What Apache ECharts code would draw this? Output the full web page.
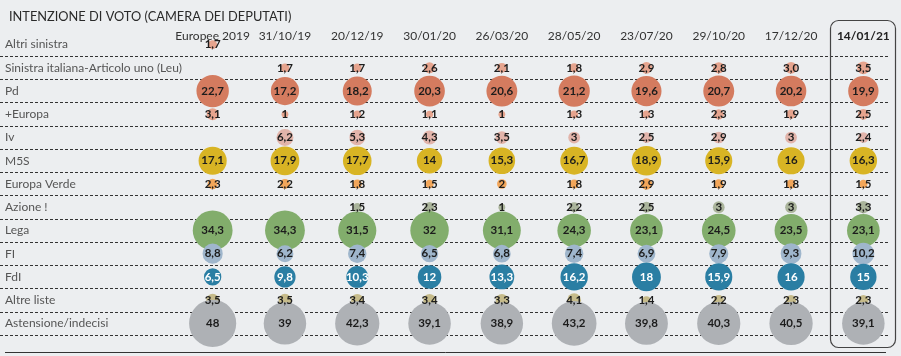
<!DOCTYPE html>
<html><head><meta charset="utf-8">
<script src="https://cdn.jsdelivr.net/npm/echarts@6/dist/echarts.min.js"></script>
<style>html,body{margin:0;padding:0;background:#eceef0}#c{width:901px;height:356px}</style>
</head><body><div id="c"></div>
<script>
const dates = ['Europee 2019','31/10/19','20/12/19','30/01/20','26/03/20','28/05/20','23/07/20','29/10/20','17/12/20','14/01/21'];
const parties = ['Altri sinistra','Sinistra italiana-Articolo uno (Leu)','Pd','+Europa','Iv','M5S','Europa Verde','Azione !','Lega','FI','FdI','Altre liste','Astensione/indecisi'];
const altriSinistra = ['1,7',null,null,null,null,null,null,null,null,null];
const sinistraLeu = [null,'1,7','1,7','2,6','2,1','1,8','2,9','2,8','3,0','3,5'];
const pd = ['22,7','17,2','18,2','20,3','20,6','21,2','19,6','20,7','20,2','19,9'];
const piuEuropa = ['3,1','1','1,2','1,1','1','1,3','1,3','2,3','1,9','2,5'];
const iv = [null,'6,2','5,3','4,3','3,5','3','2,5','2,9','3','2,4'];
const m5s = ['17,1','17,9','17,7','14','15,3','16,7','18,9','15,9','16','16,3'];
const europaVerde = ['2,3','2,2','1,8','1,5','2','1,8','2,9','1,9','1,8','1,5'];
const azione = [null,null,'1,5','2,3','1','2,2','2,5','3','3','3,3'];
const lega = ['34,3','34,3','31,5','32','31,1','24,3','23,1','24,5','23,5','23,1'];
const fi = ['8,8','6,2','7,4','6,5','6,8','7,4','6,9','7,9','9,3','10,2'];
const fdi = ['6,5','9,8','10,3','12','13,3','16,2','18','15,9','16','15'];
const altreListe = ['3,5','3,5','3,4','3,4','3,3','4,1','1,4','2,2','2,3','2,3'];
const astensione = ['48','39','42,3','39,1','38,9','43,2','39,8','40,3','40,5','39,1'];
const rowValues = [altriSinistra,sinistraLeu,pd,piuEuropa,iv,m5s,europaVerde,azione,lega,fi,fdi,altreListe,astensione];
const colors = ['#e6a48e','#e6a48e','#d47b5f','#e6a48e','#e2b4aa','#d8b424','#f2a65a','#aab49b','#82ad6c','#9fb6cc','#2a7ea3','#c6bb8a','#aeb1b5'];
const labelColors = parties.map(p => p === 'FdI' ? '#ffffff' : '#1c1c1c');

const FONT = 'Lato';
const chart = echarts.init(document.getElementById('c'), null, {renderer:'canvas'});

const series = rowValues.map((vals, i) => ({
  type: 'scatter', name: parties[i], xAxisIndex: 0, yAxisIndex: 0,
  data: vals.map((v, j) => v == null ? null : [dates[j], parties[i], parseFloat(v.replace(',', '.')), v]).filter(d => d),
  symbolSize: d => 6.8 * Math.sqrt(d[2]),
  itemStyle: {color: colors[i], opacity: 1},
  label: {show: true, position: 'inside', formatter: p => p.data[3], fontFamily: FONT, fontWeight: 'bold', fontSize: 11.5, color: labelColors[i]},
  emphasis: {disabled: true}, silent: true, animation: false
}));

chart.setOption({
  backgroundColor: '#eceef0',
  animation: false,
  title: {text: 'INTENZIONE DI VOTO (CAMERA DEI DEPUTATI)', left: 4, top: 5, textStyle: {fontFamily: FONT, fontSize: 12.8, fontWeight: 'normal', color: '#2a2a2a'}},
  grid: [
    {left: 176.5, right: 1.5, top: 33, height: 302},
    {left: 0, right: 11, top: 33, height: 302}
  ],
  xAxis: [
    {type: 'category', gridIndex: 0, data: dates, position: 'top', boundaryGap: true,
     axisLine: {show: false}, axisTick: {show: false}, splitLine: {show: false},
     axisLabel: {interval: 0, margin: -9, fontFamily: FONT, fontSize: 12, color: '#333',
       formatter: v => v === '14/01/21' ? '{b|' + v + '}' : v,
       rich: {b: {fontFamily: FONT, fontSize: 12, fontWeight: 'bold', color: '#222'}}}},
    {type: 'category', gridIndex: 1, data: ['a'], show: false}
  ],
  yAxis: [
    {type: 'category', gridIndex: 0, data: parties, inverse: true, show: false},
    {type: 'category', gridIndex: 1, data: parties, inverse: true,
     axisLine: {show: false}, axisTick: {show: false},
     axisLabel: {interval: 0, inside: true, margin: 5, fontFamily: FONT, fontSize: 12, color: '#555'},
     splitLine: {show: true, showMinLine: false, lineStyle: {color: '#333', type: [3, 2], width: 1}}}
  ],
  series: series,
  graphic: [
    {type: 'rect', shape: {x: 830.5, y: 20.5, width: 65, height: 327, r: 8}, style: {fill: null, stroke: '#444', lineWidth: 1.2}, z: 100},
    {type: 'line', shape: {x1: 5, y1: 352.5, x2: 886, y2: 352.5}, style: {stroke: '#333', lineWidth: 1}, z: 100}
  ]
});
</script></body></html>
